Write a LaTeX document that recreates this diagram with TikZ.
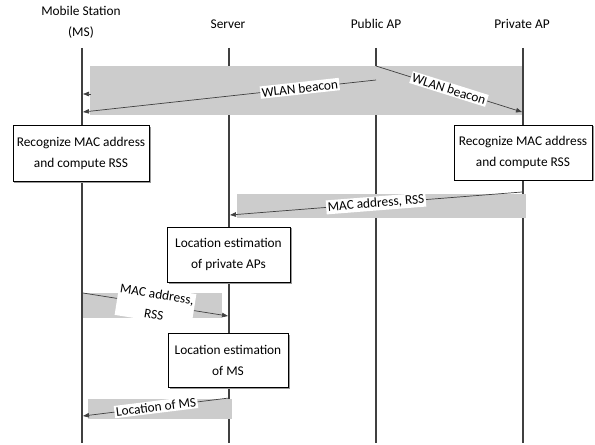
\documentclass[tikz,border=0pt]{standalone}
\usepackage{fontspec}
\setmainfont{Carlito}
\usetikzlibrary{arrows.meta,shadows}
\definecolor{bgray}{RGB}{204,204,204}
\definecolor{lgray}{RGB}{64,64,64}
\begin{document}
\begin{tikzpicture}[x=1bp,y=-1bp,
  font=\fontsize{13.4}{21}\selectfont,
  life/.style={draw=lgray,line width=1.6bp},
  band/.style={fill=bgray,draw=none},
  msg/.style={draw=lgray,line width=0.7bp,-{Triangle[length=6bp,width=4.5bp]}},
  lab/.style={fill=white,inner sep=1.5bp,sloped,align=center},
  act/.style={draw=black,line width=0.6bp,fill=white,align=center,
    drop shadow={shadow xshift=1.5bp,shadow yshift=-1.5bp,fill=black!40,opacity=1}},
  head/.style={align=center}]
\useasboundingbox (0,0) rectangle (595,445);

% headers
\node[head] (hMS) at (81,22.5) {Mobile Station\\(MS)};
\node[head] (hSV) at (228,24) {Server};
\node[head] (hPU) at (376,24) {Public AP};
\node[head] (hPR) at (522,24) {Private AP};

% lifelines
\coordinate (msT) at (82,48);  \coordinate (msB) at (82,443);
\coordinate (svT) at (229,48); \coordinate (svB) at (229,443);
\coordinate (puT) at (376,48); \coordinate (puB) at (376,443);
\coordinate (prT) at (523,48); \coordinate (prB) at (523,443);
\draw[life] (msT) -- (msB);
\draw[life] (svT) -- (svB);
\draw[life] (puT) -- (puB);
\draw[life] (prT) -- (prB);

% gray bands
\fill[band] (90,66) rectangle (521.5,115);
\fill[band] (237,194) rectangle (526,218);
\fill[band] (83,293) rectangle (222,318);
\fill[band] (88,399) rectangle (232,419);

% messages
\coordinate (a0s) at (91,94);  \coordinate (a0e) at (83,94);
\draw[msg] (a0s) -- (a0e);

\coordinate (a1s) at (376,80); \coordinate (a1e) at (83,112);
\draw[msg] (a1s) -- node[lab,pos=0.26] (l1) {WLAN beacon} (a1e);

\coordinate (a2s) at (376,66); \coordinate (a2e) at (522,112);
\draw[msg] (a2s) -- node[lab] (l2) {WLAN beacon} (a2e);

\coordinate (a3s) at (522,192); \coordinate (a3e) at (230,215);
\draw[msg] (a3s) -- node[lab] (l3) {MAC address, RSS} (a3e);

\coordinate (a4s) at (83,293); \coordinate (a4e) at (228,316);
\draw[msg] (a4s) -- node[lab] (l4) {MAC address,\\RSS} (a4e);

\coordinate (a5s) at (229,398); \coordinate (a5e) at (83,416);
\draw[msg] (a5s) -- node[lab] (l5) {Location of MS} (a5e);

% activity boxes
\node[act,minimum width=136bp,minimum height=56bp] (rL) at (81,153.5) {Recognize MAC address\\and compute RSS};
\node[act,minimum width=138bp,minimum height=55bp] (rR) at (523,152.5) {Recognize MAC address\\and compute RSS};
\node[act,minimum width=123bp,minimum height=55bp] (lP) at (228.5,254.5) {Location estimation\\of private APs};
\node[act,minimum width=120bp,minimum height=54bp] (lM) at (228,360) {Location estimation\\of MS};
\end{tikzpicture}
\end{document}
